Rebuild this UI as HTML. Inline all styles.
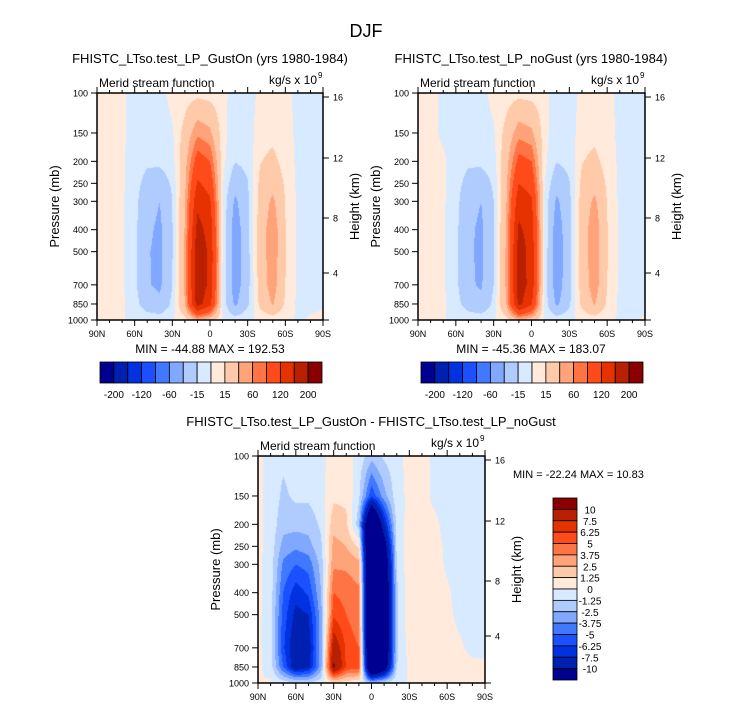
<!DOCTYPE html>
<html><head><meta charset="utf-8">
<style>
body{margin:0;background:#fff;}
#root{position:relative;width:732px;height:707px;overflow:hidden;font-family:"Liberation Sans",sans-serif;color:#000;}
canvas{position:absolute;}
svg{position:absolute;left:0;top:0;}
</style></head>
<body>
<div id="root">
<canvas id="c1" width="226" height="227" style="left:97px;top:93px"></canvas>
<canvas id="c2" width="227" height="227" style="left:418px;top:93px"></canvas>
<canvas id="c3" width="227" height="227" style="left:258px;top:456px"></canvas>
<svg id="ov" width="732" height="707"></svg>
</div>
<script>
// ---------- data ----------
const lats = ["90N","80N","70N","60N","50N","40N","30N","20N","10N","0","10S","20S","30S","40S","50S","60S","70S","80S","90S"];
const pLevels = [100,150,200,250,300,400,500,700,850,1000];
const levelsAbs = [-200,-160,-120,-80,-60,-40,-15,0,15,40,60,80,120,160,200];
const levelsDiff = [-10,-7.5,-6.25,-5,-3.75,-2.5,-1.25,0,1.25,2.5,3.75,5,6.25,7.5,10];
const barLabelsAbs = ["-200","-120","-60","-15","15","60","120","200"];
const barLabelsDiff = ["10","7.5","6.25","5","3.75","2.5","1.25","0","-1.25","-2.5","-3.75","-5","-6.25","-7.5","-10"];
const palette = ["#000090","#0020b0","#0032e0","#1a50ff","#4078ff","#80a8ff","#b0ccff","#d8eaff","#ffeadb","#ffcaaa","#ffa47a","#ff7444","#ff4a1a","#e63200","#b82000","#8a0000"];
const xTickLabels = ["90N","60N","30N","0","30S","60S","90S"];
const yTickLabels = ["100","150","200","250","300","400","500","700","850","1000"];
const heightLabels = ["16","12","8","4"];
// rows = latitude (90N..90S), columns = pressure levels
const fieldGustOn = [
[3,3,3,3,3,3,3,3,3,0],
[3,3,3,3,3,3,3,3,3,0],
[2,2,2,2,2,2,2,2,2,0],
[-5,-5,-6,-8,-9,-10,-10,-10,-7,0],
[-8,-10,-12,-22,-30,-35,-38,-38,-28,-2],
[-5,-8,-11,-26,-40,-45,-46,-44,-35,-3],
[5,-2,-6,-12,-15,-16,-16,-15,-10,-1],
[6,22,30,34,38,42,44,44,40,8],
[9,55,95,125,150,175,190,192,180,40],
[7,45,80,105,125,145,150,150,130,25],
[4,6,4,2,0,0,0,-2,-3,0],
[-6,-10,-14,-30,-45,-55,-56,-55,-45,-5],
[-6,-8,-10,-16,-20,-22,-22,-22,-18,-3],
[3,8,14,20,24,26,26,25,20,3],
[3,10,20,32,45,55,55,52,42,5],
[3,5,8,12,14,16,16,15,12,1],
[-3,-3,-3,-3,-3,-3,-3,-3,-3,-1],
[-3,-3,-3,-3,-3,-3,-3,-3,-2,1],
[-3,-3,-3,-3,-3,-3,-3,-3,-1,2]];
const fieldNoGust = [
[3,3,3,3,3,3,3,3,3,0],
[3,3,3,3,3,3,3,3,3,0],
[-2,-2,2,2,2,2,2,2,2,0],
[-5,-5,-6,-8,-9,-10,-10,-10,-7,0],
[-8,-10,-12,-22,-30,-35,-36,-36,-26,-2],
[-5,-8,-11,-26,-40,-45,-45,-43,-33,-3],
[5,-2,-6,-12,-15,-16,-16,-15,-10,-1],
[6,22,30,34,38,42,44,44,40,8],
[9,52,90,120,145,168,182,183,172,38],
[7,45,80,105,125,140,145,145,125,25],
[4,6,4,2,0,0,0,-2,-3,0],
[-6,-10,-14,-30,-45,-55,-56,-55,-45,-5],
[-6,-8,-10,-16,-20,-22,-22,-22,-18,-3],
[3,8,14,20,24,26,26,25,20,3],
[3,10,20,32,45,55,55,52,42,5],
[3,5,8,12,14,16,16,15,12,1],
[-3,-3,-3,-3,-3,-3,-3,-3,-3,-1],
[-3,-3,-3,-3,-3,-3,-3,-3,-3,-1],
[-3,-3,-3,-3,-3,-3,-3,-3,-2,1]];
const fieldDiff = [
[0.3,0.3,0.3,0.3,0.3,0.3,0.3,0.3,0.3,0],
[-0.5,-0.5,-0.5,-0.5,-0.6,-0.6,-0.8,-0.8,-0.6,0.2],
[-1,-1.5,-2,-3,-4,-5,-5.5,-6,-5,-0.5],
[-0.5,-1,-2,-3.5,-5,-7,-8,-9,-9,-1],
[-0.5,-1,-2,-3,-4.5,-6,-7.5,-8.5,-8,-1],
[-0.3,-0.5,-1,-1.5,-2,-2.5,-3,-3,-3,-0.5],
[0.5,1,2,3,3.5,5,6,9,10.5,1],
[0.5,1,1.5,2.5,3.5,4.5,5,6,6,0.5],
[-0.5,-1,-2,1,3,4,4,5,5.5,0.3],
[-2,-6,-18,-20,-20,-20,-20,-20,-18,-2],
[-1,-3,-8,-12,-14,-15,-15,-15,-13,-1],
[-0.5,-0.5,-0.8,-1,-1.2,-1.5,-1.5,-1.5,-1.3,0],
[0.5,0.3,0.5,0.8,0.8,0.8,0.8,0.5,0.3,0],
[0.5,0.5,0.5,0.8,0.6,0.5,0.5,0.5,0.3,0],
[-0.3,-0.3,0.3,0.5,0.5,0.5,0.5,0.5,0.5,0],
[-0.5,-0.5,-0.5,-0.3,-0.2,0.2,0.3,0.3,0.5,0],
[-0.5,-0.5,-0.5,-0.5,-0.5,-0.5,-0.3,0.2,0.3,0],
[-0.5,-0.5,-0.5,-0.5,-0.5,-0.5,-0.5,-0.3,0.3,0],
[-0.3,-0.3,-0.3,-0.3,-0.3,-0.3,-0.3,-0.3,0.2,0]];

// ---------- rendering ----------
const L0 = Math.log(100), L1 = Math.log(1000);
function yOf(p, top, h){ return top + (Math.log(p)-L0)/(L1-L0)*h; }
function colorFor(v, lev){ let k=0; for(const l of lev){ if(v>l) k++; } return palette[k]; }
function hexRgb(h){ return [parseInt(h.substr(1,2),16),parseInt(h.substr(3,2),16),parseInt(h.substr(5,2),16)]; }
function sample(field, fx, lp){
  const n = lats.length-1;
  let ix = Math.min(n-1, Math.max(0, Math.floor(fx*n))); let tx = fx*n-ix; tx=Math.max(0,Math.min(1,tx));
  const lps = pLevels.map(p=>Math.log(p));
  let j=0; while(j<lps.length-2 && lp>lps[j+1]) j++;
  let ty=(lp-lps[j])/(lps[j+1]-lps[j]); ty=Math.max(0,Math.min(1,ty));
  const a=field[ix][j], b=field[ix+1][j], c=field[ix][j+1], d=field[ix+1][j+1];
  return (a*(1-tx)+b*tx)*(1-ty)+(c*(1-tx)+d*tx)*ty;
}
function drawField(id, field, lev){
  const cv=document.getElementById(id), ctx=cv.getContext('2d');
  const W=cv.width,H=cv.height, img=ctx.createImageData(W,H);
  for(let y=0;y<H;y++){ const lp=L0+(y+0.5)/H*(L1-L0);
    for(let x=0;x<W;x++){ const v=sample(field,(x+0.5)/W,lp); const c=hexRgb(colorFor(v,lev)); const o=(y*W+x)*4;
      img.data[o]=c[0];img.data[o+1]=c[1];img.data[o+2]=c[2];img.data[o+3]=255; } }
  ctx.putImageData(img,0,0);
}
drawField('c1',fieldGustOn,levelsAbs);
drawField('c2',fieldNoGust,levelsAbs);
drawField('c3',fieldDiff,levelsDiff);

const NS='http://www.w3.org/2000/svg', ov=document.getElementById('ov');
function el(tag, attrs, parent){ const e=document.createElementNS(NS,tag); for(const k in attrs) e.setAttribute(k,attrs[k]); (parent||ov).appendChild(e); return e; }
function txt(s,x,y,size,anchor,name,extra){ const e=el('text',Object.assign({x:x,y:y,'font-size':size,'text-anchor':anchor||'start','font-family':'Liberation Sans, sans-serif'},extra||{})); e.textContent=s;
  
  
  return e; }
const heightOffsets=[4,65,125,180];
function axes(x0,y0,w,h,prefix){
  const g=el('g',{});
  
  
  el('rect',{x:x0,y:y0,width:w,height:h,fill:'none',stroke:'#000','stroke-width':1.5},g);
  for(let i=0;i<=18;i++){ const x=x0+i/18*w; const major=i%3===0; const len=major?6:3;
    el('line',{x1:x,y1:y0+h,x2:x,y2:y0+h+len,stroke:'#000','stroke-width':1},g);
    el('line',{x1:x,y1:y0,x2:x,y2:y0-len,stroke:'#000','stroke-width':1},g); }
  xTickLabels.forEach((s,i)=>txt(s,x0+i/6*w,y0+h+17,9,'middle',prefix+'-x-tick-label'));
  pLevels.forEach((p,i)=>{ const y=yOf(p,y0,h); el('line',{x1:x0-6,y1:y,x2:x0,y2:y,stroke:'#000'},g);
    txt(yTickLabels[i],x0-9,y+3.5,9,'end',prefix+'-y-tick-label'); });
  heightLabels.forEach((s,i)=>{ const y=y0+heightOffsets[i]; el('line',{x1:x0+w,y1:y,x2:x0+w+6,y2:y,stroke:'#000'},g);
    txt(s,x0+w+10,y+3.5,9,'start',prefix+'-height-tick-label'); });
  el('line',{x1:x0+w,y1:y0+h,x2:x0+w+6,y2:y0+h,stroke:'#000'},g);
  txt('Merid stream function',x0+2,y0-6,12,'start',prefix+'-left-string');
  txt('kg/s x 10',x0+w-6,y0-9,12,'end',prefix+'-units');
  txt('9',x0+w-5,y0-15,8,'start',prefix+'-units-exponent');
  txt('Pressure (mb)',0,0,13,'middle',prefix+'-y-axis-title',{transform:`translate(${x0-38},${y0+h/2}) rotate(-90)`});
  txt('Height (km)',0,0,13,'middle',prefix+'-right-axis-title',{transform:`translate(${x0+w+36},${y0+h/2}) rotate(-90)`});
}
axes(97,93,226,227,'panel1');
axes(418,93,227,227,'panel2');
axes(258,456,227,227,'panel3');

txt('DJF',366,37,18,'middle','figure-title');
txt('FHISTC_LTso.test_LP_GustOn (yrs 1980-1984)',210,63,13,'middle','panel1-title');
txt('FHISTC_LTso.test_LP_noGust (yrs 1980-1984)',531,63,13,'middle','panel2-title');
txt('FHISTC_LTso.test_LP_GustOn - FHISTC_LTso.test_LP_noGust',371,426,13,'middle','panel3-title');
txt('MIN = -44.88  MAX = 192.53',210,353,12,'middle','panel1-min-max');
txt('MIN = -45.36  MAX = 183.07',531,353,12,'middle','panel2-min-max');
txt('MIN = -22.24  MAX = 10.83',513,478,11,'start','panel3-min-max');

function hbar(x0,y0,w,h,prefix){
  const bw=w/palette.length;
  palette.forEach((c,i)=>{ const r=el('rect',{x:x0+i*bw,y:y0,width:bw,height:h,fill:c,stroke:'#000','stroke-width':0.8});
    
     });
  barLabelsAbs.forEach((s,i)=>txt(s,x0+(1+2*i)*bw,y0+h+15,10,'middle',prefix+'-colorbar-label'));
}
hbar(100,362,222,21,'panel1');
hbar(421,362,222,21,'panel2');
(function vbar(x0,y0,w,h){
  const bh=h/palette.length;
  for(let i=0;i<palette.length;i++){ const r=el('rect',{x:x0,y:y0+i*bh,width:w,height:bh,fill:palette[palette.length-1-i],stroke:'#000','stroke-width':0.8});
    
     }
  barLabelsDiff.forEach((s,i)=>txt(s,x0+w+13,y0+(i+1)*bh+4,10,'middle','panel3-colorbar-label'));
})(553,498,24,182);
</script>
</body></html>
